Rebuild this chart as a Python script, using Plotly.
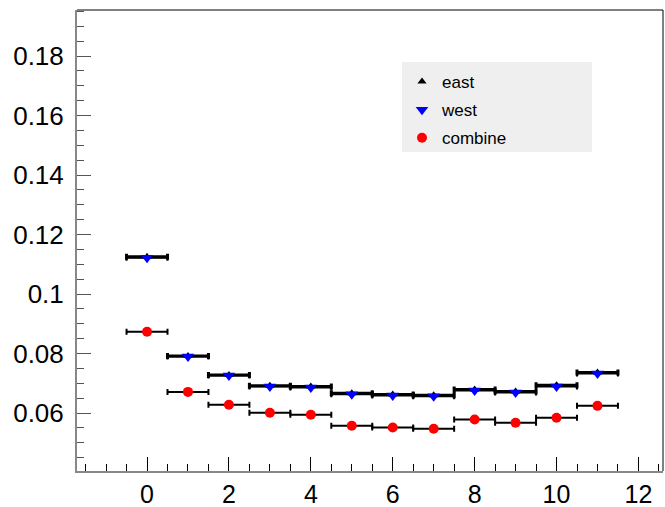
import plotly.graph_objects as go

bins = [0, 1, 2, 3, 4, 5, 6, 7, 8, 9, 10, 11]
bin_half = [0.5] * 12
east = [0.1125, 0.0792, 0.0728, 0.0692, 0.0689, 0.0666, 0.0662, 0.0660, 0.0679, 0.0672, 0.0693, 0.0736]
east_err = [0.0006] * 12
west = [0.1122, 0.0790, 0.0726, 0.0689, 0.0686, 0.0663, 0.0659, 0.0656, 0.0676, 0.0669, 0.0689, 0.0733]
west_err = [0.0006] * 12
combine = [0.0873, 0.0671, 0.0628, 0.0601, 0.0594, 0.0557, 0.0551, 0.0547, 0.0578, 0.0567, 0.0584, 0.0624]
combine_err = [0.0003] * 12

yticks = [0.06, 0.08, 0.10, 0.12, 0.14, 0.16, 0.18]
yticktext = ["0.06", "0.08", "0.1", "0.12", "0.14", "0.16", "0.18"]
xticks = [0, 2, 4, 6, 8, 10, 12]

fig = go.Figure()

def add(name, y, yerr, color, symbol, size, thick):
    fig.add_trace(go.Scatter(
        x=bins, y=y, mode="markers", name=name, legendgroup=name,
        marker=dict(color=color, symbol=symbol, size=size, line=dict(width=0)),
        error_x=dict(type="data", array=bin_half, color="black", thickness=thick, width=3),
        error_y=dict(type="data", array=yerr, color="black", thickness=2, width=0),
    ))

add("east", east, east_err, "black", "triangle-up", 8, 3)
add("west", west, west_err, "blue", "triangle-down", 11, 2)
add("combine", combine, combine_err, "red", "circle", 10, 2)

W, H = 665, 507
L, R, T, B = 77, 2, 10, 36
pw, ph = W - L - R, H - T - B

def px(x):
    return (x - L) / pw

def py(y):
    return 1 - (y - T) / ph

fig.update_layout(
    width=W, height=H,
    margin=dict(l=L, r=R, t=T, b=B, autoexpand=False),
    plot_bgcolor="white", paper_bgcolor="white",
    font=dict(family="Liberation Sans, Arial, sans-serif", color="black"),
    showlegend=True,
    legend=dict(
        x=px(402), y=py(64), xanchor="left", yanchor="top",
        bgcolor="rgba(0,0,0,0)", borderwidth=0,
        font=dict(size=17, color="black"),
        tracegroupgap=3, itemwidth=30,
    ),
    xaxis=dict(
        range=[-1.71, 12.6], tickvals=xticks, ticks="inside", ticklen=14,
        tickcolor="black", tickwidth=1, automargin=False,
        minor=dict(dtick=0.5, tick0=0, ticks="inside", ticklen=7, tickcolor="black"),
        showgrid=False, zeroline=False, showline=True, linecolor="#888888", linewidth=2,
        tickfont=dict(size=25), ticklabelstandoff=0,
    ),
    yaxis=dict(
        range=[0.0405, 0.1955], tickvals=yticks, ticktext=yticktext, ticks="inside",
        ticklen=14, tickcolor="#555555", tickwidth=1, automargin=False,
        minor=dict(dtick=0.005, tick0=0, ticks="inside", ticklen=7, tickcolor="#555555"),
        showgrid=False, zeroline=False, showline=True, linecolor="#888888", linewidth=2,
        tickfont=dict(size=26), ticklabelstandoff=6,
    ),
    shapes=[
        dict(type="rect", xref="paper", yref="paper", layer="below",
             x0=px(402), x1=px(592), y0=py(152), y1=py(62),
             fillcolor="#efefef", line=dict(width=0)),
        dict(type="line", xref="paper", yref="paper", x0=0, x1=1, y0=1, y1=1,
             line=dict(color="black", width=1)),
        dict(type="line", xref="paper", yref="paper", x0=1, x1=1, y0=0, y1=1,
             line=dict(color="black", width=1)),
    ],
)

fig.write_html("out.html", config={"displayModeBar": False},
               post_script="document.body.style.margin='0';")
